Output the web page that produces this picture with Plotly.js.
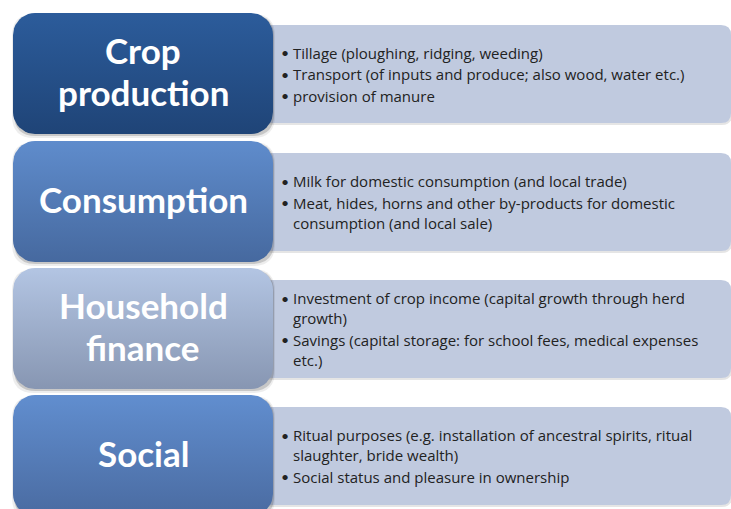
<!DOCTYPE html>
<html><head><meta charset="utf-8">
<script src="https://cdn.plot.ly/plotly-3.0.1.min.js"></script>
<style>html,body{margin:0;padding:0;background:#fff;}#chart{width:731px;height:509px;}</style>
</head><body><div id="chart"></div>
<script>
// ---- content ----
const categories = [['Crop', 'production'], ['Consumption'], ['Household', 'finance'], ['Social']];
const bullets1 = [['Tillage (ploughing, ridging, weeding)'], ['Transport (of inputs and produce; also wood, water etc.)'], ['provision of manure']];
const bullets2 = [['Milk for domestic consumption (and local trade)'], ['Meat, hides, horns and other by-products for domestic', 'consumption (and local sale)']];
const bullets3 = [['Investment of crop income (capital growth through herd', 'growth)'], ['Savings (capital storage: for school fees, medical expenses', 'etc.)']];
const bullets4 = [['Ritual purposes (e.g. installation of ancestral spirits, ritual', 'slaughter, bride wealth)'], ['Social status and pleasure in ownership']];
const bulletGroups = [bullets1, bullets2, bullets3, bullets4];

// ---- styling / layout ----
const topColors = ['#2c5c9b', '#5f8ccc', '#b3c5e3', '#618ecf'];
const bottomColors = ['#1f4477', '#46699f', '#8796b2', '#4a6ba1'];
const rightFill = '#c0cadf';
const W = 731, H = 509;
const leftX0 = 13, leftX1 = 273, leftTops = [13, 141, 268, 395], leftH = 121, leftR = 22;
const rightX0 = 262, rightX1 = 731, rightTops = [25, 153, 280, 407], rightH = 98, rightR = 10;
const bulletX = 285, textX = 291, wrapGap = 20, bulletGap = 21.5, labelGap = 42, labelShift = -2.5;
const labelFont = {family: 'Lato, sans-serif', size: 35, color: '#ffffff'};
const bodyFont = {family: '"Open Sans", sans-serif', size: 15, color: '#222222'};
const bulletFont = {family: 'Lato, sans-serif', size: 14, color: '#222222'};

function rrPath(x0, y0, x1, y1, r) {
  return `M${x0 + r},${y0} H${x1 - r} Q${x1},${y0} ${x1},${y0 + r} V${y1 - r} Q${x1},${y1} ${x1 - r},${y1} H${x0 + r} Q${x0},${y1} ${x0},${y1 - r} V${y0 + r} Q${x0},${y0} ${x0 + r},${y0} Z`;
}
function rrPoints(x0, y0, x1, y1, r) {
  const xs = [], ys = [], n = 10;
  const corners = [[x1 - r, y0 + r, -Math.PI / 2, 0], [x1 - r, y1 - r, 0, Math.PI / 2], [x0 + r, y1 - r, Math.PI / 2, Math.PI], [x0 + r, y0 + r, Math.PI, 1.5 * Math.PI]];
  corners.forEach(([cx, cy, a0, a1]) => {
    for (let i = 0; i <= n; i++) {
      const a = a0 + (a1 - a0) * i / n;
      xs.push(cx + r * Math.cos(a)); ys.push(cy + r * Math.sin(a));
    }
  });
  xs.push(xs[0]); ys.push(ys[0]);
  return {xs, ys};
}

const shapes = [];
const traces = [];
const annotations = [];

rightTops.forEach((t) => {
  shapes.push({type: 'path', xref: 'x', yref: 'y', layer: 'below', path: rrPath(rightX0 + 1, t + 2, rightX1 + 1, t + rightH + 2, rightR), fillcolor: 'rgba(0,0,0,0.10)', line: {width: 0}});
  shapes.push({type: 'path', xref: 'x', yref: 'y', layer: 'below', path: rrPath(rightX0, t, rightX1, t + rightH, rightR), fillcolor: rightFill, line: {width: 0}});
});
leftTops.forEach((t) => {
  shapes.push({type: 'path', xref: 'x', yref: 'y', layer: 'below', path: rrPath(leftX0 - 1, t + 1, leftX1 + 2, t + leftH + 4, leftR), fillcolor: 'rgba(0,0,0,0.07)', line: {width: 0}});
  shapes.push({type: 'path', xref: 'x', yref: 'y', layer: 'below', path: rrPath(leftX0 + 1, t + 2, leftX1 + 1, t + leftH + 2, leftR), fillcolor: 'rgba(0,0,0,0.16)', line: {width: 0}});
});

categories.forEach((cat, i) => {
  const t = leftTops[i];
  const p = rrPoints(leftX0, t, leftX1, t + leftH, leftR);
  traces.push({
    type: 'scatter', mode: 'lines', x: p.xs, y: p.ys, fill: 'toself',
    line: {width: 0, color: 'rgba(0,0,0,0)'}, hoverinfo: 'skip', showlegend: false,
    fillgradient: {type: 'vertical', start: t, stop: t + leftH, colorscale: [[0, topColors[i]], [1, bottomColors[i]]]}
  });
  const cy = t + leftH / 2 - (cat.length - 1) * labelGap / 2 + labelShift;
  cat.forEach((word, wi) => {
    annotations.push({
      xref: 'x', yref: 'y', x: (leftX0 + leftX1) / 2, y: cy + wi * labelGap, text: '<b>' + word + '</b>',
      showarrow: false, xanchor: 'center', yanchor: 'middle', align: 'center', font: labelFont
    });
  });

  // bullet text
  const group = bulletGroups[i];
  const lines = [];
  let y = 0;
  group.forEach((b, bi) => {
    if (bi > 0) y += bulletGap;
    b.forEach((ln, li) => {
      if (li > 0) y += wrapGap;
      lines.push({y, text: ln, first: li === 0});
    });
  });
  const rt = rightTops[i];
  const offset = rt + rightH / 2 - y / 2;
  lines.forEach((l) => {
    if (l.first) {
      annotations.push({xref: 'x', yref: 'y', x: bulletX, y: offset + l.y, text: '•', showarrow: false,
        xanchor: 'center', yanchor: 'middle', font: bulletFont});
    }
    annotations.push({xref: 'x', yref: 'y', x: textX, y: offset + l.y, text: l.text, showarrow: false,
      xanchor: 'left', yanchor: 'middle', align: 'left', font: bodyFont});
  });
});

const layout = {
  width: W, height: H, margin: {l: 0, r: 0, t: 0, b: 0},
  paper_bgcolor: '#ffffff', plot_bgcolor: '#ffffff', showlegend: false,
  xaxis: {range: [0, W], visible: false, fixedrange: true},
  yaxis: {range: [H, 0], visible: false, fixedrange: true},
  shapes, annotations
};
Plotly.newPlot('chart', traces, layout, {displayModeBar: false, staticPlot: true});
</script>
</body></html>
